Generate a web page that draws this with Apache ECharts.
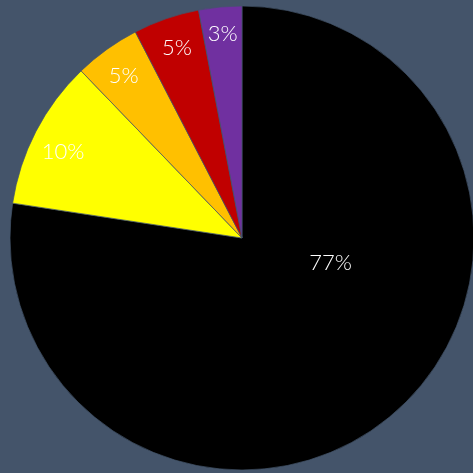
<!DOCTYPE html>
<html>
<head>
<meta charset="utf-8">
<script src="https://cdn.jsdelivr.net/npm/echarts@6/dist/echarts.min.js"></script>
<style>
  html, body { margin: 0; padding: 0; background: #44546A; }
  #chart { width: 473px; height: 473px; }
</style>
</head>
<body>
<div id="chart"></div>
<script>
// Share of each segment (percent), clockwise from 12 o'clock
const categories = ['Black', 'Yellow', 'Orange', 'Red', 'Purple'];
const shares = [77.4, 10.4, 4.6, 4.6, 3.0];
const sliceColors = ['#000000', '#FFFF00', '#FFC000', '#C00000', '#7030A0'];

const bg = '#44546A';
const center = [242, 238];
const radius = 232;

// Nudges for the percentage labels, in pixels
const labelOffsets = [[-45, -130], [3, 8], [1, 4], [2, 3], [0, 0]];

const pieData = categories.map((name, i) => ({
  name: name,
  value: shares[i],
  itemStyle: { color: sliceColors[i] }
}));

// Transparent twin ring used only to place the percentage labels
const labelData = categories.map((name, i) => ({
  name: name,
  value: shares[i],
  label: { offset: labelOffsets[i] }
}));

const chart = echarts.init(document.getElementById('chart'));
chart.setOption({
  backgroundColor: bg,
  animation: false,
  series: [
    {
      type: 'pie',
      center: center,
      radius: [0, radius],
      startAngle: 90,
      clockwise: true,
      silent: true,
      label: { show: false },
      labelLine: { show: false },
      itemStyle: { borderColor: bg, borderWidth: 0.7 },
      data: pieData
    },
    {
      type: 'pie',
      center: center,
      radius: [radius * 0.74, radius],
      startAngle: 90,
      clockwise: true,
      silent: true,
      percentPrecision: 0,
      itemStyle: { color: 'rgba(0,0,0,0)', borderWidth: 0 },
      label: {
        show: true,
        position: 'inside',
        formatter: '{d}%',
        color: '#FFFFFF',
        fontFamily: 'Lato',
        fontSize: 22,
        fontWeight: 300
      },
      labelLine: { show: false },
      data: labelData
    }
  ]
});
</script>
</body>
</html>
